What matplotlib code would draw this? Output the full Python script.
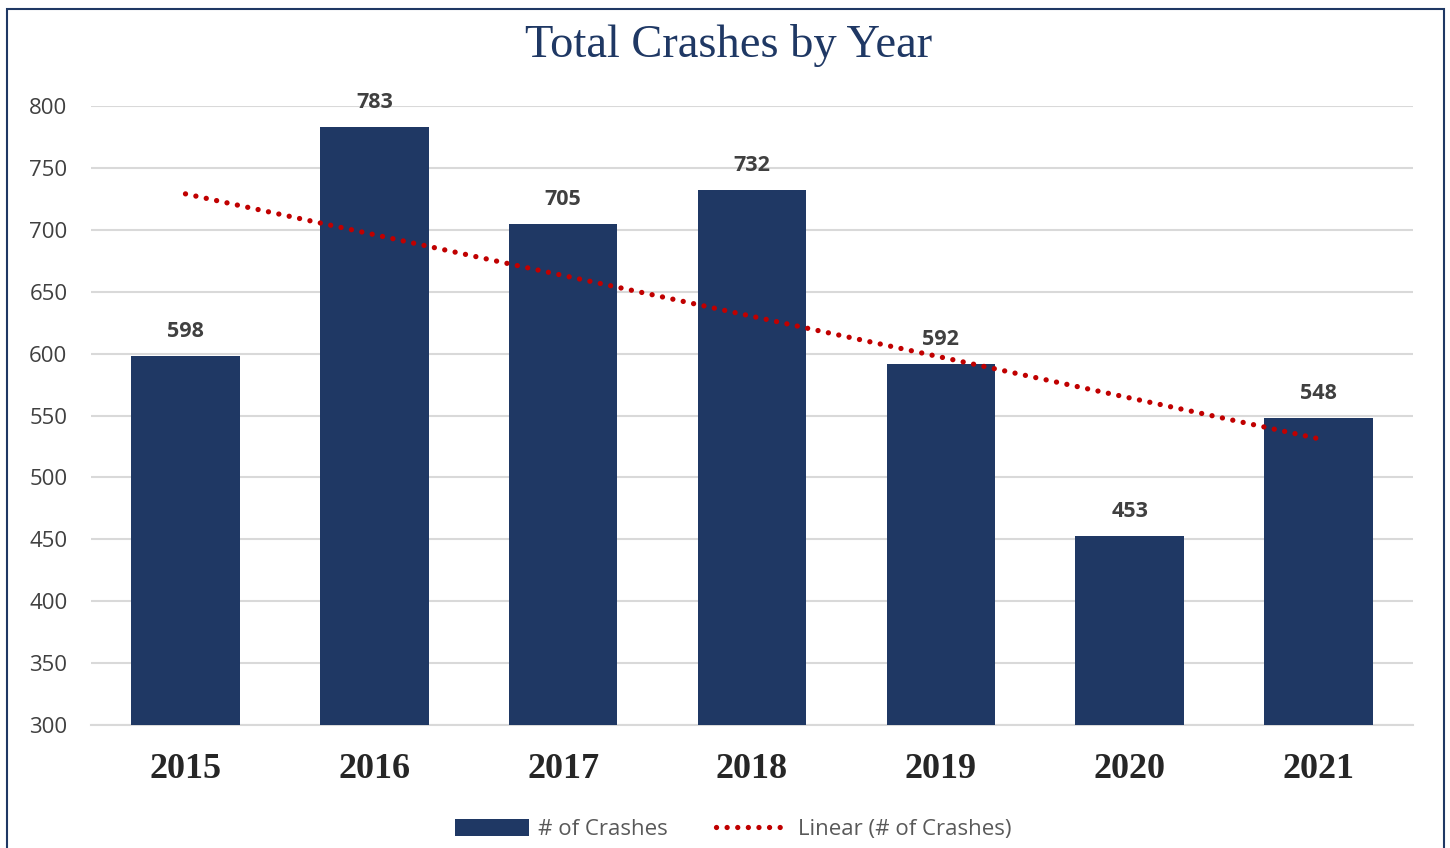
import numpy as np
import matplotlib.pyplot as plt
from matplotlib.patches import Rectangle

# Daten
years = ['2015', '2016', '2017', '2018', '2019', '2020', '2021']
crashes = [598, 783, 705, 732, 592, 453, 548]

navy = '#1F3864'
red = '#C00000'

fig = plt.figure(figsize=(14.5, 8.48), dpi=100)
ax = fig.add_axes([0.0628, 0.145, 0.9117, 0.73])

x = np.arange(len(years))
ax.bar(x, crashes, width=0.575, color=navy, zorder=3, label='# of Crashes')

# lineare Trendlinie (wie Excel)
k, d = np.polyfit(x, crashes, 1)
ax.plot(x, k * x + d, color=red, lw=3.8, linestyle=(0, (0.01, 2.0)),
        dash_capstyle='round', zorder=4, label='Linear (# of Crashes)')

for xi, v in zip(x, crashes):
    ax.annotate(str(v), (xi, v), xytext=(0, 10), textcoords='offset points',
                ha='center', va='bottom', fontsize=15.5, fontweight='bold',
                color='#404040', family='Open Sans')

ax.set_xlim(-0.5, len(years) - 0.5)
ax.set_ylim(300, 800)
ax.set_yticks(range(300, 801, 50))
ax.grid(axis='y', color='#D9D9D9', lw=1.5, zorder=0)
for s in ['top', 'right', 'left']:
    ax.spines[s].set_visible(False)
ax.spines['bottom'].set_color('#D9D9D9')
ax.spines['bottom'].set_linewidth(1.5)
ax.tick_params(length=0)
ax.tick_params(axis='y', pad=17)
ax.tick_params(axis='x', pad=20)
ax.set_xticks(x)
ax.set_xticklabels(years, fontsize=26, fontweight='bold', family='Liberation Serif',
                   color='#262626')
for lab in ax.get_yticklabels():
    lab.set_fontsize(16)
    lab.set_color('#404040')
    lab.set_family('Open Sans')

fig.text(0.5025, 0.946, 'Total Crashes by Year', ha='center', va='center',
         fontsize=33.5, family='Liberation Serif', color=navy)

h, l = ax.get_legend_handles_labels()
leg = fig.legend(h[::-1], l[::-1], loc='center', bbox_to_anchor=(0.506, 0.022), ncol=2,
                 frameon=False, prop={'family': 'Open Sans', 'size': 16},
                 handlelength=3.3, handleheight=0.8, columnspacing=2.2, handletextpad=0.4)
for t in leg.get_texts():
    t.set_color('#595959')

# Rahmen
fig.patches.append(Rectangle((0.0045, -0.01), 0.9915, 0.9995, transform=fig.transFigure,
                             fill=False, edgecolor='#1F3864', lw=1.5))

fig.savefig('out.png', dpi=100)
